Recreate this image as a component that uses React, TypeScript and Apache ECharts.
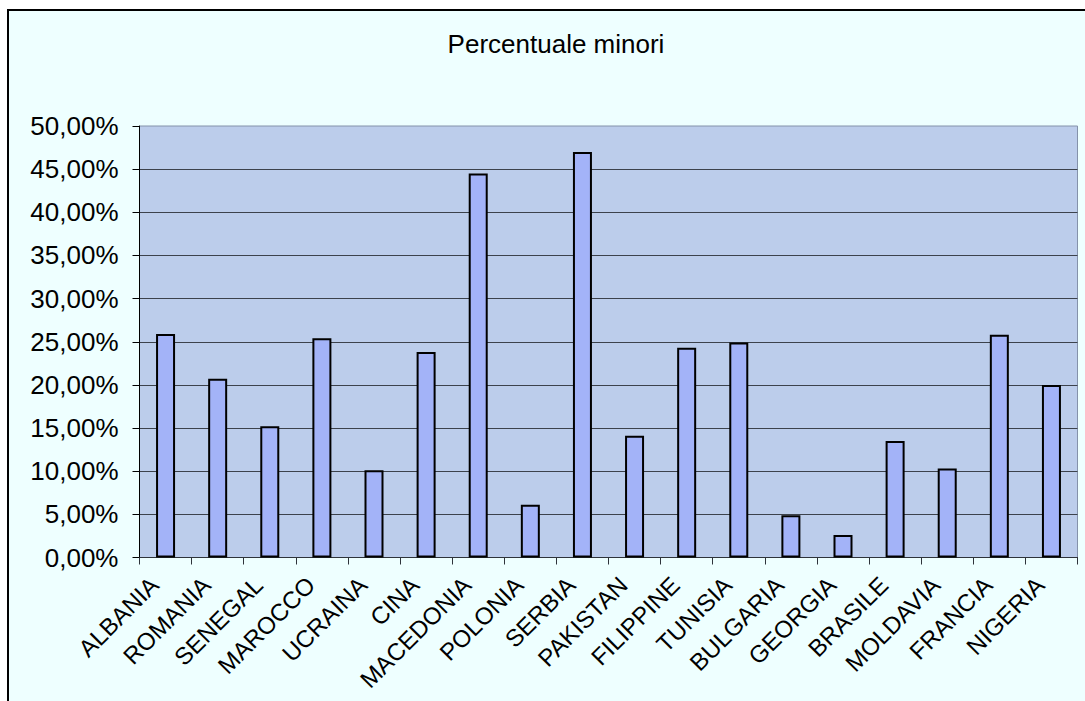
import React, { useEffect, useRef } from "react";
import * as echarts from "echarts";

const categories = [
  "ALBANIA", "ROMANIA", "SENEGAL", "MAROCCO", "UCRAINA", "CINA", "MACEDONIA", "POLONIA", "SERBIA",
  "PAKISTAN", "FILIPPINE", "TUNISIA", "BULGARIA", "GEORGIA", "BRASILE", "MOLDAVIA", "FRANCIA", "NIGERIA",
];
const values = [
  0.259, 0.207, 0.152, 0.254, 0.101, 0.238, 0.445, 0.061, 0.470,
  0.141, 0.243, 0.249, 0.049, 0.026, 0.135, 0.103, 0.258, 0.200,
];
const titleText = "Percentuale minori";

const FONT = "'Liberation Sans', Arial, Helvetica, sans-serif";

export default function App() {
  const ref = useRef<HTMLDivElement>(null);
  useEffect(() => {
    if (!ref.current) return;
    const chart = echarts.init(ref.current, undefined, { renderer: "svg" });
    chart.setOption({
      animation: false,
      backgroundColor: "#ffffff",
      graphic: [
        {
          type: "rect",
          z: -100,
          shape: { x: 8, y: 10, width: 1120, height: 740 },
          style: { fill: "#eeffff", stroke: "#000000", lineWidth: 2 },
        },
      ],
      title: {
        text: titleText,
        left: 551,
        top: 26,
        textAlign: "center",
        textStyle: { fontFamily: FONT, fontSize: 26, fontWeight: "normal", color: "#000" },
      },
      grid: {
        left: 139.5,
        top: 126,
        right: 7.5,
        bottom: 143.5,
        show: true,
        backgroundColor: "#bccdeb",
        borderColor: "#8492aa",
        borderWidth: 1,
      },
      xAxis: {
        type: "category",
        data: categories,
        boundaryGap: true,
        axisLine: { show: true, lineStyle: { color: "#2e333a", width: 1 } },
        axisTick: { show: true, length: 7, alignWithLabel: false, lineStyle: { color: "#2e333a" } },
        axisLabel: {
          interval: 0,
          rotate: 45,
          margin: 12,
          padding: [0, 16, 0, 0],
          fontFamily: FONT,
          fontSize: 24,
          color: "#000",
        },
      },
      yAxis: {
        type: "value",
        min: 0,
        max: 0.5,
        interval: 0.05,
        axisLine: { show: true, lineStyle: { color: "#000", width: 1 } },
        axisTick: { show: true, length: 7, lineStyle: { color: "#000" } },
        axisLabel: {
          margin: 21,
          fontFamily: FONT,
          fontSize: 26,
          color: "#000",
          formatter: (v: number) => (v * 100).toFixed(2).replace(".", ",") + "%",
        },
        splitLine: {
          show: true,
          showMaxLine: false,
          lineStyle: { color: "#3c424c", width: 1 },
        },
      },
      series: [
        {
          type: "bar",
          data: values,
          barWidth: 19,
          itemStyle: { color: "#a3b3f8", borderColor: "#000", borderWidth: 2 },
        },
      ],
    });
    return () => chart.dispose();
  }, []);
  return (
    <div
      ref={ref}
      style={{ position: "absolute", left: 0, top: 0, width: 1085, height: 701 }}
    />
  );
}
